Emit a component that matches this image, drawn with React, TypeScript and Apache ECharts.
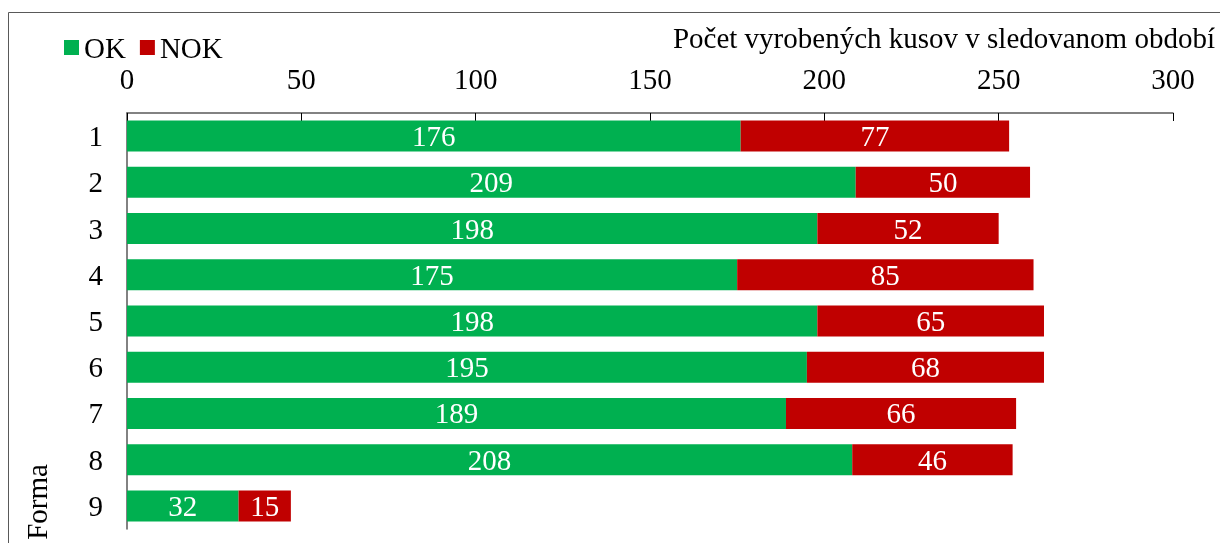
import React, { useEffect, useRef } from "react";
import * as echarts from "echarts";

const categories = ["1", "2", "3", "4", "5", "6", "7", "8", "9"];
const okValues = [176, 209, 198, 175, 198, 195, 189, 208, 32];
const nokValues = [77, 50, 52, 85, 65, 68, 66, 46, 15];
const axisTitle = "Počet vyrobených kusov v sledovanom období";
const catTitle = "Forma";

const FONT = "'Liberation Serif', 'Times New Roman', serif";
const FS = 29;

export default function App() {
  const ref = useRef<HTMLDivElement>(null);
  useEffect(() => {
    if (!ref.current) return;
    const chart = echarts.init(ref.current, undefined, { renderer: "svg" });
    const label = {
      show: true,
      position: "inside",
      color: "#ffffff",
      fontFamily: FONT,
      fontSize: FS,
    };
    chart.setOption({
      animation: false,
      textStyle: { fontFamily: FONT },
      legend: {
        left: 59,
        top: 28,
        itemWidth: 15,
        itemHeight: 15,
        itemGap: 14,
        icon: "rect",
        textStyle: { fontFamily: FONT, fontSize: FS, color: "#000" },
        data: ["OK", "NOK"],
      },
      grid: { left: 127, right: 47, top: 113, bottom: 14, containLabel: false },
      xAxis: {
        type: "value",
        position: "top",
        min: 0,
        max: 300,
        interval: 50,
        splitLine: { show: false },
        axisLine: { show: true, lineStyle: { color: "#595959", width: 1.5 } },
        axisTick: { show: true, inside: true, length: 8, lineStyle: { color: "#000" } },
        axisLabel: { fontFamily: FONT, fontSize: FS, color: "#000", margin: 20 },
      },
      yAxis: {
        type: "category",
        inverse: true,
        data: categories,
        axisLine: { show: true, lineStyle: { color: "#595959", width: 1.5 } },
        axisTick: { show: false },
        axisLabel: { fontFamily: FONT, fontSize: FS, color: "#000", margin: 24 },
      },
      graphic: [
        {
          type: "rect",
          shape: { x: 8.5, y: 12.5, width: 1400, height: 700 },
          style: { fill: "none", stroke: "#595959", lineWidth: 1 },
          silent: true,
        },
        {
          type: "text",
          x: 1215,
          y: 38,
          style: {
            text: axisTitle,
            fontFamily: FONT,
            fontSize: FS,
            fill: "#000",
            align: "right",
            verticalAlign: "middle",
          },
        },
        {
          type: "text",
          x: 37,
          y: 502,
          rotation: Math.PI / 2,
          style: {
            text: catTitle,
            fontFamily: FONT,
            fontSize: FS,
            fill: "#000",
            align: "center",
            verticalAlign: "middle",
          },
        },
      ],
      series: [
        {
          name: "OK",
          type: "bar",
          stack: "total",
          barWidth: 31,
          itemStyle: { color: "#00B050" },
          label,
          data: okValues,
        },
        {
          name: "NOK",
          type: "bar",
          stack: "total",
          barWidth: 31,
          itemStyle: { color: "#C00000" },
          label,
          data: nokValues,
        },
      ],
    });
    return () => chart.dispose();
  }, []);
  return (
    <div
      ref={ref}
      style={{ position: "fixed", left: 0, top: 0, width: 1220, height: 543 }}
    />
  );
}
